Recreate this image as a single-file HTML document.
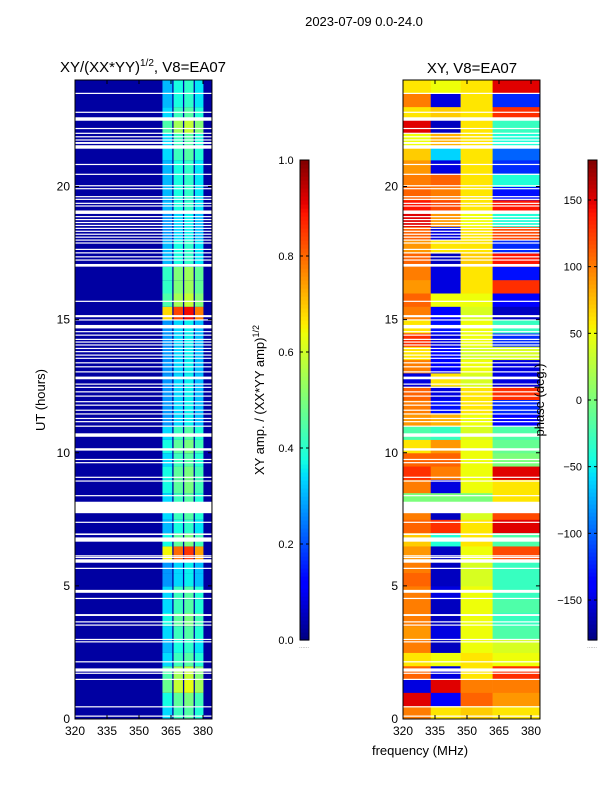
<!DOCTYPE html>
<html><head><meta charset="utf-8"><style>
body{margin:0;background:#fff;}
svg{display:block;font-family:"Liberation Sans","DejaVu Sans",sans-serif;}
</style></head><body>
<svg id="fig" width="600" height="800" viewBox="0 0 600 800">
<text x="364" y="26" font-size="13" text-anchor="middle">2023-07-09 0.0-24.0</text>
<text x="143" y="72" font-size="15" text-anchor="middle">XY/(XX*YY)<tspan font-size="10" dy="-6">1/2</tspan><tspan dy="6">, V8=EA07</tspan></text>
<text x="472" y="73" font-size="15" text-anchor="middle">XY, V8=EA07</text>
<text x="45" y="400" font-size="13" text-anchor="middle" transform="rotate(-90 45 400)">UT (hours)</text>
<text x="420" y="755" font-size="13" text-anchor="middle">frequency (MHz)</text>
<text x="264" y="400" font-size="13" text-anchor="middle" transform="rotate(-90 264 400)">XY amp. / (XX*YY amp)<tspan font-size="9" dy="-5">1/2</tspan></text>
<g id="ampPanel"></g>
<g id="phPanel"></g>
<g id="cb1"></g>
<g id="cb2"></g>
<g id="axes"></g>
<text x="544" y="400" font-size="13" text-anchor="middle" transform="rotate(-90 544 400)">phase (deg.)</text>
</svg>
<script>
// ---- data ----
const blockHours = 0.5;
const bandLo = [361, 366.2, 371.2, 376.2];
const bandHi = [365.6, 370.6, 375.6, 380.2];
const bandGain = [0.34, 0.42, 0.45, 0.39];
const bgAmp = 0.03;
// band scale per 0.5h block, from 0h upwards
const bandScale = [1.0,1.1,1.4,1.3,1.0,0.9,1.0,1.1,1.0,1.0,0.8,0.8,1.9,1.1,0.9,1.0,1.0,1.1,1.1,1.0,1.1,1.0,0.8,0.8,
  0.8,0.8,0.8,0.8,0.8,0.8,2.0,1.3,1.2,1.2,0.9,0.9,0.8,0.8,0.9,0.9,0.9,0.9,1.0,1.0,1.3,1.0,0.9,0.9];
// phase per 0.5h block (0h upwards), regions A 320-333, B 333-347, C 347-362, D 362-384
const phaseA = [100,150,-150,110,60,100,90,100,100,100,110,100,90,70,110,100,0,100,130,110,60,-20,90,100,
  110,-150,100,60,130,60,100,110,90,100,110,90,110,150,140,110,100,90,70,50,150,60,100,60];
const phaseB = [60,-140,150,-150,50,-160,-150,-160,-160,-150,-160,-160,-160,-40,130,-160,0,-150,100,110,90,-30,80,-130,
  -150,60,-140,-140,-150,-130,-140,50,-150,-150,-160,60,-150,90,120,100,110,-150,-60,80,-160,70,-150,50];
const phaseC = [70,110,100,60,60,50,50,50,50,50,40,40,50,60,60,40,0,50,50,50,50,40,50,60,
  60,40,50,40,50,50,40,50,60,60,70,60,60,50,60,60,60,60,60,60,60,60,60,60];
const phaseD = [60,90,100,130,50,40,-20,-30,-20,-30,-30,-30,120,-20,150,120,60,60,150,0,-10,-20,-140,-120,
  130,-150,-150,40,-120,-30,-160,-140,130,-130,140,-120,120,-40,140,-130,-40,-120,-100,-40,-30,130,-120,150];
const regionEdge = [320, 333, 347, 362, 384.2];
// data gaps (start,end hours)
const gaps = [[23.48,23.52],[22.77,22.81],[22.47,22.6],[22.16,22.2],[21.98,22.02],[21.85,21.89],[21.73,21.77],[21.6,21.67],[21.42,21.55],
 [20.81,20.85],[20.44,20.48],[20.01,20.05],[19.9,19.94],[19.6,19.64],[19.5,19.54],[19.35,19.39],[19.25,19.29],[18.97,19.1],
 [18.85,18.89],[18.74,18.78],[18.63,18.67],[18.52,18.56],[18.41,18.45],[18.3,18.34],[18.19,18.23],[18.08,18.12],[17.97,18.01],[17.86,17.9],
 [17.62,17.66],[17.49,17.53],[17.34,17.38],[17.22,17.26],[16.99,17.09],[15.67,15.71],[15.09,15.17],[14.97,15.01],[14.67,14.8],
 [14.53,14.57],[14.4,14.44],[14.24,14.28],[14.14,14.18],[14.03,14.07],[13.9,13.94],[13.78,13.82],[13.65,13.69],[13.53,13.57],[13.36,13.4],
 [13.21,13.25],[13.02,13.06],[12.76,12.86],[12.56,12.6],[12.44,12.48],[12.27,12.31],[12.11,12.15],[11.9,11.94],[11.77,11.81],
 [11.58,11.62],[11.44,11.48],[11.27,11.31],[11.15,11.19],[10.98,11.02],[10.6,10.73],[10.08,10.17],[9.73,9.77],[9.61,9.65],
 [9.06,9.1],[8.92,8.96],[8.37,8.41],[7.73,8.16],[7.37,7.41],[6.91,6.97],[6.66,6.82],[6.11,6.15],[6.05,6.09],[5.87,6.0],[5.64,5.68],
 [4.74,4.85],[4.51,4.55],[3.87,3.94],[3.63,3.67],[3.51,3.55],[2.97,3.01],[2.88,2.92],[2.13,2.17],[1.78,1.9],[1.7,1.74],[1.47,1.51],[0.44,0.48],[0.09,0.13]];
const yTicks = [0,5,10,15,20];
const xTicks = [320,335,350,365,380];
const cb1Ticks = [0.0,0.2,0.4,0.6,0.8,1.0];
const cb2Ticks = [-150,-100,-50,0,50,100,150];

// ---- helpers ----
const NS="http://www.w3.org/2000/svg";
function jet(v){v=Math.max(0,Math.min(1,v));
 const f=(x,pts)=>{for(let i=1;i<pts.length;i++){if(x<=pts[i][0]){const a=pts[i-1],b=pts[i];return a[1]+(b[1]-a[1])*(x-a[0])/(b[0]-a[0]);}}return pts[pts.length-1][1];};
 const r=f(v,[[0,0],[0.35,0],[0.66,1],[0.89,1],[1,0.5]]);
 const g=f(v,[[0,0],[0.125,0],[0.375,1],[0.64,1],[0.91,0],[1,0]]);
 const b=f(v,[[0,0.5],[0.11,1],[0.34,1],[0.65,0],[1,0]]);
 return `rgb(${Math.round(r*255)},${Math.round(g*255)},${Math.round(b*255)})`;}
function el(tag,attrs,parent){const e=document.createElementNS(NS,tag);for(const k in attrs)e.setAttribute(k,attrs[k]);parent.appendChild(e);return e;}
const Y0=719,Y1=80;
function yS(h){return Y0-(h/24)*(Y0-Y1);}
function xS(f,x0){return x0+(f-320)*(128/60);}
const panels=[{x0:75,id:'ampPanel'},{x0:403,id:'phPanel'}];
const fMax=384.2;

// ---- amplitude heatmap ----
(function(){
 const g=document.getElementById('ampPanel');
 for(let b=0;b<bandScale.length;b++){
  const yt=yS((b+1)*blockHours), yb=yS(b*blockHours);
  const bg=el('rect',{x:75,y:yt,width:xS(fMax,75)-75,height:yb-yt+0.5,fill:jet(bgAmp)},g);
  
  
  for(let k=0;k<bandLo.length;k++){
   const c=el('rect',{x:xS(bandLo[k],75),y:yt,width:xS(bandHi[k],75)-xS(bandLo[k],75),height:yb-yt+0.5,fill:jet(bandGain[k]*bandScale[b])},g);
   
   
  }
 }
})();
// ---- phase heatmap ----
(function(){
 const g=document.getElementById('phPanel');
 const regs=[phaseA,phaseB,phaseC,phaseD];
 for(let b=0;b<phaseA.length;b++){
  const yt=yS((b+1)*blockHours), yb=yS(b*blockHours);
  for(let k=0;k<4;k++){
   const c=el('rect',{x:xS(regionEdge[k],403),y:yt,width:xS(regionEdge[k+1],403)-xS(regionEdge[k],403)+0.3,height:yb-yt+0.5,fill:jet((regs[k][b]+180)/360)},g);
   
   
  }
 }
})();
// ---- gaps, frames, ticks ----
(function(){
 const ax=document.getElementById('axes');
 for(const p of panels){
  const w=xS(fMax,p.x0)-p.x0;
  for(const gp of gaps){
   const r=el('rect',{x:p.x0,y:yS(gp[1]),width:w,height:Math.max(1.2,yS(gp[0])-yS(gp[1])),fill:'#fff'},ax);
   
   
  }
  const fr=el('rect',{x:p.x0,y:Y1,width:w,height:Y0-Y1,fill:'none',stroke:'#000','stroke-width':1},ax);
  
  
  for(const t of yTicks){
   const y=yS(t);
   el('line',{x1:p.x0,x2:p.x0+4,y1:y,y2:y,stroke:'#000'},ax);
   el('line',{x1:p.x0+w-4,x2:p.x0+w,y1:y,y2:y,stroke:'#000'},ax);
   const tx=el('text',{x:p.x0-5,y:y+4,'font-size':12,'text-anchor':'end'},ax);tx.textContent=t;
   
   
  }
  for(const t of xTicks){
   const x=xS(t,p.x0);
   el('line',{x1:x,x2:x,y1:Y0,y2:Y0-4,stroke:'#000'},ax);
   el('line',{x1:x,x2:x,y1:Y1,y2:Y1+4,stroke:'#000'},ax);
   const tx=el('text',{x:x,y:Y0+16,'font-size':12,'text-anchor':'middle'},ax);tx.textContent=t;
   
   
  }
 }
})();
// ---- colorbars ----
function colorbar(id,x,vmin,vmax,ticks){
 const g=document.getElementById(id);const top=160,bot=640,n=120;
 for(let i=0;i<n;i++){
  const r=el('rect',{x:x,y:bot-(i+1)*(bot-top)/n,width:9,height:(bot-top)/n+0.6,fill:jet((i+0.5)/n)},g);
  
  
 }
 el('rect',{x:x,y:top,width:9,height:bot-top,fill:'none',stroke:'#000'},g);
 el('text',{x:x+4,y:bot+8,'font-size':6,'text-anchor':'middle',fill:'#888'},g).textContent='......';
 for(const t of ticks){
  const y=bot-(t-vmin)/(vmax-vmin)*(bot-top);
  el('line',{x1:x,x2:x+3,y1:y,y2:y,stroke:'#000'},g);
  el('line',{x1:x+6,x2:x+9,y1:y,y2:y,stroke:'#000'},g);
  const tx=el('text',{x:x-(id==='cb1'?14:6),y:y+4,'font-size':11,'text-anchor':id==='cb1'?'middle':'end'},g);
  tx.textContent=(id==='cb1'?t.toFixed(1):(t<0?'\u2212'+Math.abs(t):t));
  
  
 }
}
colorbar('cb1',300,0,1,cb1Ticks);
colorbar('cb2',588,-180,180,cb2Ticks);
</script>
</body></html>
